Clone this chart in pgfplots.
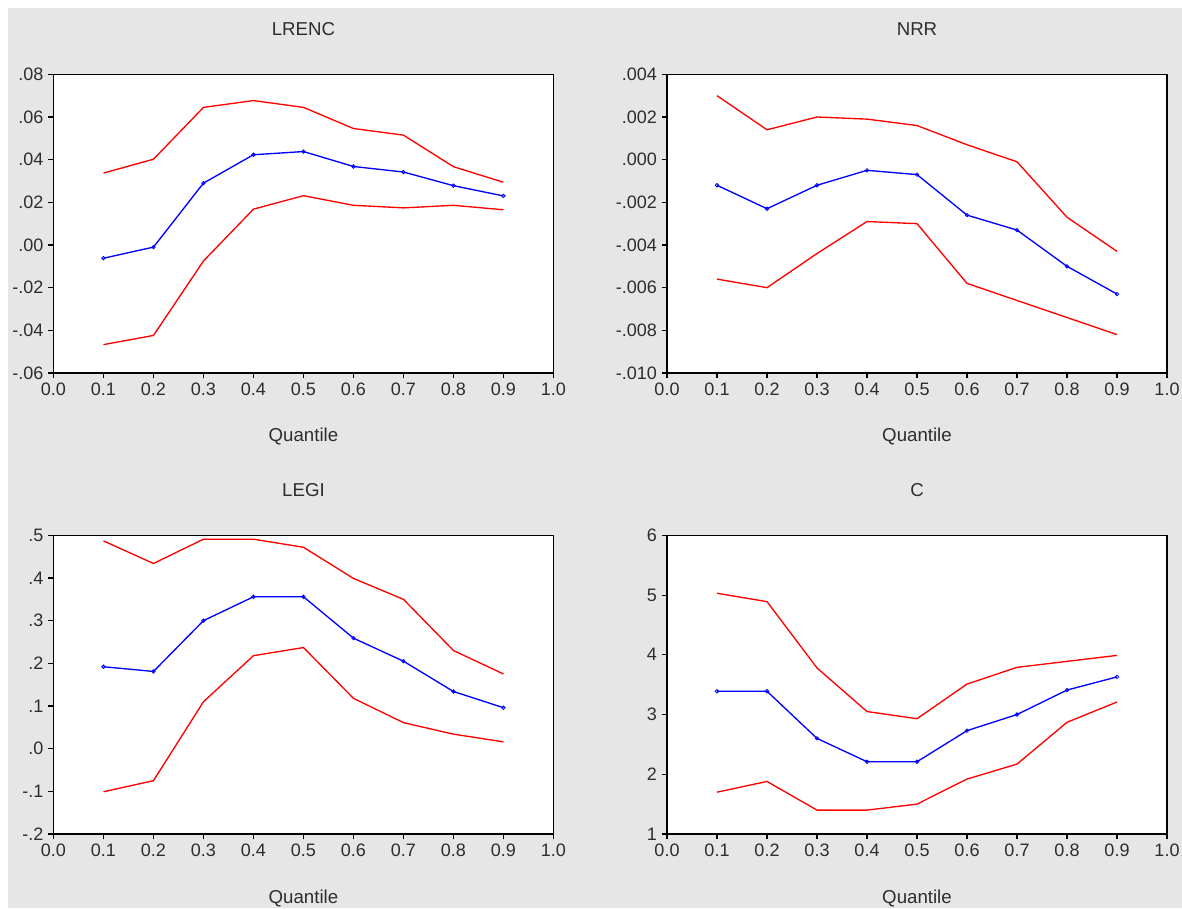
\documentclass[border=0pt]{standalone}
\usepackage{pgfplots}
\pgfplotsset{compat=1.18}
\usepackage{fontspec}
\setmainfont{Liberation Sans}
\definecolor{bggray}{RGB}{230,230,230}
\definecolor{txt}{RGB}{45,45,45}
\definecolor{myred}{RGB}{255,0,0}
\definecolor{myblue}{RGB}{0,0,255}
\pgfplotsset{
  qpanel/.style={
    scale only axis,
    width=375pt, height=224pt,
    anchor=south west,
    xmin=0, xmax=1,
    xtick={0,0.1,...,1.0},
    xticklabels={0.0,0.1,0.2,0.3,0.4,0.5,0.6,0.7,0.8,0.9,1.0},
    scaled y ticks=false, scaled x ticks=false,
    axis background/.style={fill=white},
    axis line style={black, line width=1.1pt},
    tick style={black, line width=0.8pt},
    tickwidth=4pt,
    tick align=outside,
    xtick pos=bottom, ytick pos=left,
    tick label style={font=\fontsize{13.5}{15}\selectfont, text=txt},
    /pgf/number format/assume math mode=true,
    title style={at={(0.5,1)}, anchor=center, yshift=27.75pt, font=\fontsize{14}{16}\selectfont, text=txt},
    xlabel style={at={(0.5,0)}, anchor=center, yshift=-48pt, font=\fontsize{14}{16}\selectfont, text=txt},
    xlabel={Quantile},
    clip=false,
    red line/.style={myred, line width=1pt, no markers},
    blue line/.style={myblue, line width=1pt, mark=o, mark size=1.3pt, mark options={line width=0.6pt}},
  }
}
\begin{document}
\begin{tikzpicture}
\path[use as bounding box] (0,0) rectangle (886.5pt,681pt);
\fill[bggray] (6pt,0) rectangle (886.5pt,675pt);

% LRENC
\begin{axis}[qpanel, at={(40.1pt,401.25pt)}, title={LRENC},
  ymin=-0.06, ymax=0.08,
  ytick={-0.06,-0.04,-0.02,0,0.02,0.04,0.06,0.08},
  yticklabels={-.06,-.04,-.02,.00,.02,.04,.06,.08}]
\addplot[red line] coordinates {(0.1,0.0337)(0.2,0.0402)(0.3,0.0645)(0.4,0.0677)(0.5,0.0645)(0.6,0.0546)(0.7,0.0515)(0.8,0.0367)(0.9,0.0294)};
\addplot[blue line] coordinates {(0.1,-0.0062)(0.2,-0.0010)(0.3,0.0290)(0.4,0.0423)(0.5,0.0438)(0.6,0.0368)(0.7,0.0342)(0.8,0.0278)(0.9,0.0230)};
\addplot[red line] coordinates {(0.1,-0.0467)(0.2,-0.0424)(0.3,-0.0075)(0.4,0.0168)(0.5,0.0231)(0.6,0.0186)(0.7,0.0174)(0.8,0.0186)(0.9,0.0165)};
\end{axis}

% NRR
\begin{axis}[qpanel, at={(500.25pt,401.25pt)}, title={NRR},
  ymin=-0.010, ymax=0.004,
  ytick={-0.010,-0.008,-0.006,-0.004,-0.002,0,0.002,0.004},
  yticklabels={-.010,-.008,-.006,-.004,-.002,.000,.002,.004}]
\addplot[red line] coordinates {(0.1,0.0030)(0.2,0.0014)(0.3,0.0020)(0.4,0.0019)(0.5,0.0016)(0.6,0.0007)(0.7,-0.0001)(0.8,-0.0027)(0.9,-0.0043)};
\addplot[blue line] coordinates {(0.1,-0.0012)(0.2,-0.0023)(0.3,-0.0012)(0.4,-0.0005)(0.5,-0.0007)(0.6,-0.0026)(0.7,-0.0033)(0.8,-0.0050)(0.9,-0.0063)};
\addplot[red line] coordinates {(0.1,-0.0056)(0.2,-0.0060)(0.3,-0.0044)(0.4,-0.0029)(0.5,-0.0030)(0.6,-0.0058)(0.7,-0.0066)(0.8,-0.0074)(0.9,-0.0082)};
\end{axis}

% LEGI
\begin{axis}[qpanel, at={(40.1pt,55.5pt)}, title={LEGI},
  ymin=-0.2, ymax=0.5,
  ytick={-0.2,-0.1,0,0.1,0.2,0.3,0.4,0.5},
  yticklabels={-.2,-.1,.0,.1,.2,.3,.4,.5}]
\addplot[red line] coordinates {(0.1,0.487)(0.2,0.434)(0.3,0.491)(0.4,0.491)(0.5,0.472)(0.6,0.399)(0.7,0.350)(0.8,0.230)(0.9,0.175)};
\addplot[blue line] coordinates {(0.1,0.192)(0.2,0.181)(0.3,0.300)(0.4,0.356)(0.5,0.356)(0.6,0.259)(0.7,0.205)(0.8,0.134)(0.9,0.096)};
\addplot[red line] coordinates {(0.1,-0.101)(0.2,-0.075)(0.3,0.110)(0.4,0.218)(0.5,0.237)(0.6,0.118)(0.7,0.061)(0.8,0.034)(0.9,0.016)};
\end{axis}

% C
\begin{axis}[qpanel, at={(500.25pt,55.5pt)}, title={C},
  ymin=1, ymax=6,
  ytick={1,2,3,4,5,6},
  yticklabels={1,2,3,4,5,6}]
\addplot[red line] coordinates {(0.1,5.03)(0.2,4.89)(0.3,3.78)(0.4,3.05)(0.5,2.93)(0.6,3.51)(0.7,3.79)(0.8,3.89)(0.9,3.99)};
\addplot[blue line] coordinates {(0.1,3.39)(0.2,3.39)(0.3,2.60)(0.4,2.21)(0.5,2.21)(0.6,2.73)(0.7,3.00)(0.8,3.41)(0.9,3.63)};
\addplot[red line] coordinates {(0.1,1.70)(0.2,1.88)(0.3,1.40)(0.4,1.40)(0.5,1.50)(0.6,1.92)(0.7,2.17)(0.8,2.87)(0.9,3.21)};
\end{axis}
\end{tikzpicture}
\end{document}
